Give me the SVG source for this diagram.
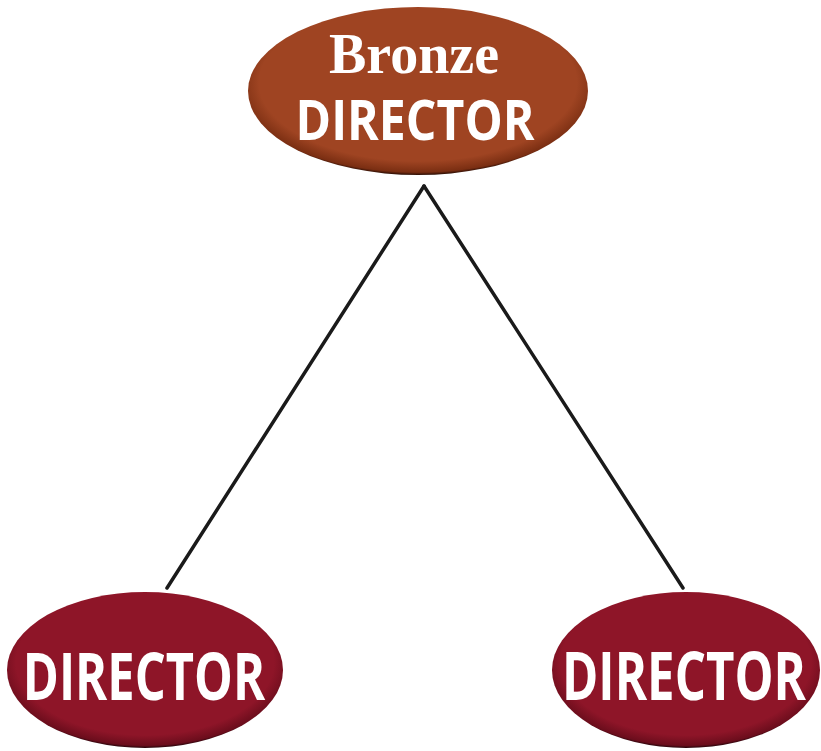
<svg xmlns="http://www.w3.org/2000/svg" width="821" height="751" viewBox="0 0 821 751">
<style>
.lbl{fill:#fff;font-family:"Open Sans","Liberation Sans",sans-serif;font-weight:bold;text-anchor:middle}
.serif{fill:#fff;font-family:"Liberation Serif",serif;font-weight:bold;text-anchor:middle}
.edge{stroke:#1a1a1a;stroke-width:3.5;fill:none;stroke-linecap:round}
</style>
<defs>
<radialGradient id="gb" cx="0.5" cy="0.45" r="0.55">
<stop offset="0.85" stop-color="#9F4422"/>
<stop offset="0.97" stop-color="#7a2e12"/>
<stop offset="1" stop-color="#2a0d04"/>
</radialGradient>
<radialGradient id="gr" cx="0.5" cy="0.45" r="0.55">
<stop offset="0.85" stop-color="#8E1528"/>
<stop offset="0.97" stop-color="#6b0d1c"/>
<stop offset="1" stop-color="#25040a"/>
</radialGradient>
</defs>
<rect width="821" height="751" fill="#fff"/>
<g id="connectors">
<line class="edge" x1="424" y1="186" x2="167" y2="588"/>
<line class="edge" x1="424" y1="186" x2="683" y2="588"/>
</g>
<g id="bronze">
<ellipse cx="418" cy="91" rx="170" ry="84" fill="url(#gb)"/>
<text class="serif" x="414" y="73" font-size="56">Bronze</text>
<text class="lbl" transform="translate(415,140) scale(0.86,1)" x="0" y="0" font-size="56">DIRECTOR</text>
</g>
<g id="director-left">
<ellipse cx="145" cy="670" rx="138" ry="78" fill="url(#gr)"/>
<text class="lbl" transform="translate(144,700) scale(0.74,1)" x="0" y="0" font-size="66">DIRECTOR</text>
</g>
<g id="director-right">
<ellipse cx="686" cy="670" rx="134" ry="78" fill="url(#gr)"/>
<text class="lbl" transform="translate(684,700) scale(0.745,1)" x="0" y="0" font-size="66">DIRECTOR</text>
</g>
</svg>
